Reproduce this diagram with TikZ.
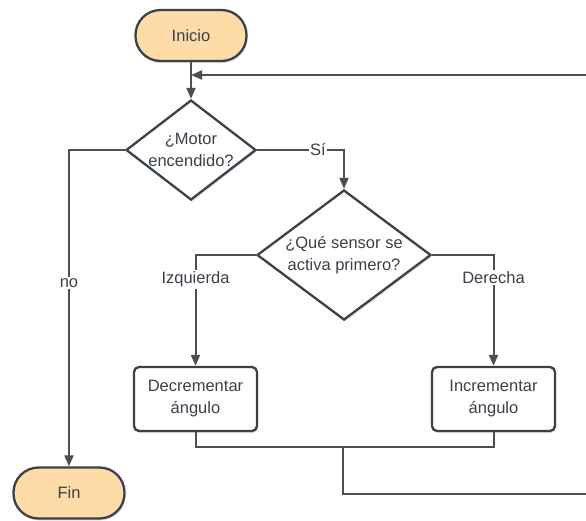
\documentclass[tikz,border=0pt]{standalone}
\usepackage{fontspec}
\setmainfont{Liberation Sans}
\usetikzlibrary{shapes.geometric,arrows.meta,shadows}
\definecolor{edge}{HTML}{3A414A}
\definecolor{linec}{HTML}{4F4F4F}
\definecolor{term}{HTML}{FFDBA8}
\definecolor{txtc}{HTML}{3A414A}
\tikzset{
  shd/.style={drop shadow={shadow xshift=1pt,shadow yshift=-2pt,opacity=0.12,fill=black}},
  pill/.style={draw=edge,line width=2.3pt,fill=term,rounded corners=25pt,minimum width=111pt,minimum height=51pt,shd,text=txtc,font=\fontsize{16.5}{20}\selectfont},
  procbox/.style={draw=edge,line width=2.3pt,fill=white,rounded corners=5pt,minimum width=123pt,minimum height=64pt,align=center,shd,text=txtc,font=\fontsize{16.5}{22}\selectfont},
  dia/.style={draw=edge,line width=2.3pt,fill=white,diamond,inner sep=0pt,shd},
  dtext/.style={align=center,text=txtc,font=\fontsize{16.5}{22}\selectfont},
  conn/.style={draw=linec,line width=2pt},
  arr/.style={conn,-{Triangle[length=11pt,width=9pt]}},
  lbl/.style={fill=white,inner sep=1.5pt,text=txtc,font=\fontsize{16.5}{20}\selectfont}
}
\begin{document}
\begin{tikzpicture}[x=1pt,y=-1pt]
\useasboundingbox (0,0) rectangle (586,520);
\node[pill] (ini) at (191,35.5) {Inicio};
\node[dia,minimum width=130pt,minimum height=100pt] (d1) at (191,150) {};
\node[dtext] (t1) at (d1) {¿Motor\\encendido?};
\node[dia,minimum width=174pt,minimum height=130pt] (d2) at (344,255) {};
\node[dtext] (t2) at (d2) {¿Qué sensor se\\activa primero?};
\node[procbox] (dec) at (195.5,399) {Decrementar\\ángulo};
\node[procbox] (inc) at (493.5,399) {Incrementar\\ángulo};
\node[pill] (fin) at (69,493) {Fin};
\coordinate (j1) at (191,75);
\coordinate (rtop) at (590,75);
\coordinate (m) at (343,447);
\coordinate (rbot) at (590,494);
% connectors
\draw[arr] (ini.south) -- (d1.north);
\draw[arr] (rtop) -- (j1);
\draw[arr] (d1.west) -| node[lbl,pos=0.71] (lno) {no} (fin.north);
\draw[arr] (d1.east) -| node[lbl,pos=0.35] (lsi) {Sí} (d2.north);
\draw[arr] (d2.west) -| node[lbl,pos=0.61] (liz) {Izquierda} (dec.north);
\draw[arr] (d2.east) -| node[lbl,pos=0.60] (lde) {Derecha} (inc.north);
\draw[conn] (dec.south) |- (m) -| (inc.south);
\draw[conn] (m) |- (rbot);
\end{tikzpicture}
\end{document}
